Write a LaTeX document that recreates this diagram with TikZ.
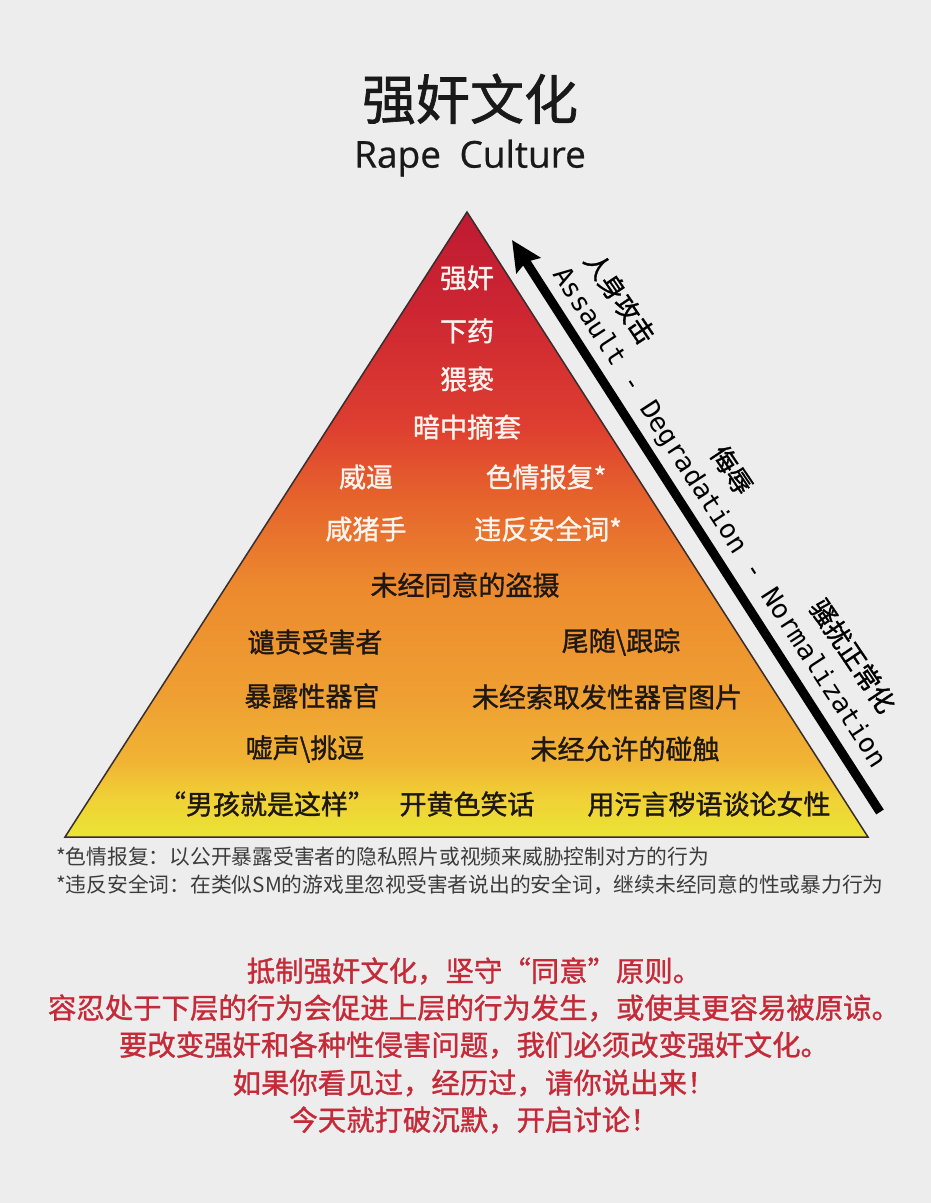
\documentclass[tikz,border=0pt]{standalone}
\usepackage{fontspec}
\setsansfont{Open Sans}[FakeBold=0.6]
\newfontfamily\cjk{Noto Sans CJK SC}
\newfontfamily\cjkm{Noto Sans CJK SC}[FakeBold=1.2]
\newfontfamily\monofnt{DejaVu Sans Mono}
\usetikzlibrary{positioning,arrows.meta}

\definecolor{bgcol}{RGB}{237,237,237}
\definecolor{titleInk}{RGB}{25,25,25}
\definecolor{tierWhite}{RGB}{252,244,238}
\definecolor{tierInk}{RGB}{30,24,20}
\definecolor{noteInk}{RGB}{60,60,60}
\definecolor{sloganRed}{RGB}{196,42,56}
\definecolor{pyredge}{RGB}{55,45,45}
\definecolor{pyr0}{RGB}{234,228,52}
\definecolor{pyr1}{RGB}{240,210,54}
\definecolor{pyr2}{RGB}{241,180,52}
\definecolor{pyr3}{RGB}{239,160,50}
\definecolor{pyr4}{RGB}{236,138,46}
\definecolor{pyr5}{RGB}{230,100,44}
\definecolor{pyr6}{RGB}{222,62,48}
\definecolor{pyr7}{RGB}{205,38,50}
\definecolor{pyr8}{RGB}{190,26,50}

\pgfdeclareverticalshading{pyrshade}{100bp}{%
  color(0bp)=(pyr0); color(25bp)=(pyr0); color(28bp)=(pyr1);
  color(31bp)=(pyr2); color(36bp)=(pyr3); color(45bp)=(pyr4);
  color(52bp)=(pyr5); color(58bp)=(pyr6); color(67bp)=(pyr7);
  color(75bp)=(pyr8); color(100bp)=(pyr8)}

\begin{document}
\begin{tikzpicture}[x=1pt, y=-1pt,
      cn/.style={font=\cjkm\fontsize{27}{32}\selectfont, inner sep=0pt},
      hot/.style={cn, text=tierWhite},
      mild/.style={cn, text=tierInk},
      note/.style={font=\cjk\fontsize{20.75}{25}\selectfont, text=noteInk,
                   anchor=west, inner sep=0pt},
      slogan/.style={font=\cjkm\fontsize{28.4}{33}\selectfont, text=sloganRed,
                     inner sep=0pt},
      axiscn/.style={font=\cjkm\fontsize{26}{30}\selectfont,
                     rotate=-56, inner sep=0pt},
      axisen/.style={font=\monofnt\fontsize{26.5}{30}\selectfont,
                     rotate=-57, inner sep=0pt},
      >={Stealth[length=30pt, width=28pt, inset=4pt]}]
    \fill[bgcol] (0,0) rectangle (931,1203);
    \useasboundingbox (0,0) rectangle (931,1203);

    % title
    \node[font=\cjkm\fontsize{54}{60}\selectfont, text=titleInk] (title) at (470,99) {强奸文化};
    \node[font=\sffamily\fontsize{37}{42}\selectfont, text=titleInk] (subtitle) at (470,158) {Rape\hspace{0.5em}Culture};

    % pyramid
    \coordinate (apex) at (467,212);
    \coordinate (bl) at (65,837);
    \coordinate (br) at (868,837);
    \path[draw=pyredge, line width=1.5pt, shading=pyrshade] (apex) -- (br) -- (bl) -- cycle;

    \node[hot]  (rape)    at (467,278) {强奸};
    \node[hot]  (drug)    at (467,331) {下药};
    \node[hot]  (molest)  at (467,379) {猥亵};
    \node[hot]  (stealth) at (467,427) {暗中摘套};
    \node[hot]  (coerce)  at (366,477) {威逼};
    \node[hot]  (revenge) at (546,477) {色情报复*};
    \node[hot]  (grope)   at (366,529) {咸猪手};
    \node[hot]  (safeword)at (548,529) {违反安全词*};
    \node[mild] (spycam)  at (465,585) {未经同意的盗摄};
    \node[mild] (blame)   at (315,642) {谴责受害者};
    \node[mild] (stalk)   at (621,642) {尾随\textbackslash 跟踪};
    \node[mild] (expose)  at (312,696) {暴露性器官};
    \node[mild] (pics)    at (607,697) {未经索取发性器官图片};
    \node[mild] (catcall) at (305,749) {嘘声\textbackslash 挑逗};
    \node[mild] (touch)   at (625,749) {未经允许的碰触};
    \node[mild] (boys)    at (267,804) {“男孩就是这样”};
    \node[mild] (jokes)   at (467,804) {开黄色笑话};
    \node[mild] (talk)    at (709,804) {用污言秽语谈论女性};

    % escalation arrow
    \coordinate (arrbot) at (880,812);
    \coordinate (arrtip) at (512,240);
    \draw[->, line width=9pt] (arrbot) -- (arrtip);
    \node[axiscn] (lblassault) at (620,298) {人身攻击};
    \node[axiscn] (lbldegr)    at (732,470) {侮辱};
    \node[axiscn] (lblnorm)    at (853,656) {骚扰正常化};
    \node[axisen] (axistext)   at (719,518) {Assault - Degradation - Normalization};

    % footnotes
    \node[note] (fn1) at (56,857) {*色情报复：以公开暴露受害者的隐私照片或视频来威胁控制对方的行为};
    \node[note] (fn2) at (56,885) {*违反安全词：在类似SM的游戏里忽视受害者说出的安全词，继续未经同意的性或暴力行为};

    % closing lines
    \node[slogan] (s1) at (474,971)  {抵制强奸文化，坚守“同意”原则。};
    \node[slogan] (s2) at (474,1008) {容忍处于下层的行为会促进上层的行为发生，或使其更容易被原谅。};
    \node[slogan] (s3) at (474,1045) {要改变强奸和各种性侵害问题，我们必须改变强奸文化。};
    \node[slogan] (s4) at (474,1083) {如果你看见过，经历过，请你说出来！};
    \node[slogan] (s5) at (474,1120) {今天就打破沉默，开启讨论！};
  \end{tikzpicture}
\end{document}
